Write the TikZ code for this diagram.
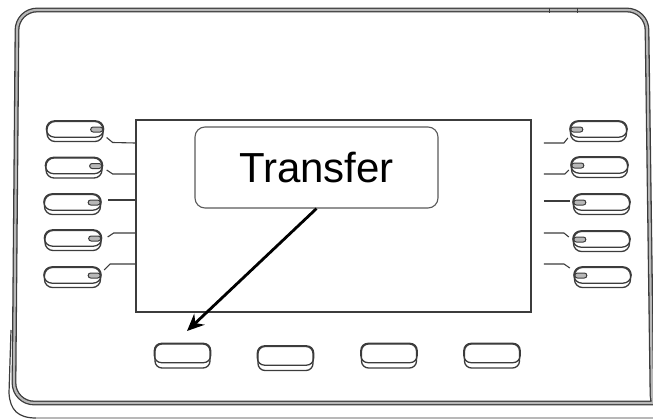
\documentclass[tikz,border=0pt]{standalone}
\usepackage{fontspec}
\setmainfont{Liberation Sans}
\usetikzlibrary{arrows.meta,calc}
\definecolor{keygray}{HTML}{3C3C3C}
\definecolor{dblgray}{HTML}{B8B8B8}
\definecolor{boxline}{HTML}{5A5A5A}
\begin{document}
\begin{tikzpicture}[x=1pt,y=-1pt,
  body/.style={draw=keygray, line width=1.3pt, double=dblgray, double distance=2.2pt},
  keyline/.style={draw=keygray, line width=1.3pt},
  sidekey/.style={keyline, rectangle, rounded corners=8pt, minimum width=56pt, minimum height=20pt, inner sep=0pt},
  softkey/.style={keyline, rectangle, rounded corners=7pt, minimum width=55pt, minimum height=24pt, inner sep=0pt},
  lead/.style={draw=keygray, line width=1.1pt},
  ind/.style={keyline, fill=dblgray, rounded corners=2.5pt, line width=1pt},
  screenbox/.style={draw=keygray, line width=1.8pt, rectangle, minimum width=395pt, minimum height=192pt, inner sep=0pt},
  labelbox/.style={draw=boxline, fill=white, line width=1.1pt, rectangle, rounded corners=10pt, minimum width=243pt, minimum height=81pt, inner sep=0pt},
  labeltext/.style={text=black, font=\fontsize{42}{50}\selectfont, inner sep=0pt},
  pointer/.style={line width=2.8pt, -{Stealth[length=17pt,width=15pt]}}
]
\useasboundingbox (0,0) rectangle (653,420);
% body outline
\draw[body] (37,10) -- (627,10) arc[start angle=90, end angle=0, x radius=20, y radius=-20]
  -- (652,395) -- (653,403) -- (34,403) arc[start angle=270, end angle=180, x radius=20, y radius=-20]
  -- (17,30) arc[start angle=180, end angle=90, x radius=20, y radius=-20] -- cycle;
% base line
\draw[keygray, line width=1.2pt] (11,330) -- (9,393) .. controls (10,410) and (18,418) .. (36,418);
\draw[dblgray, line width=1.2pt] (36,418) -- (653,418);
% ticks on top
\draw[keygray, line width=1pt] (549,8) -- (549,13) (577,8) -- (577,13);
% screen
\node[screenbox] (screen) at (333.5,216) {};
% label
\node[labelbox] (T) at (316.5,167.5) {};
\node[labeltext] (Tt) at (T.center) {Transfer};
\coordinate (tip) at (187,331);
\draw[pointer] (T.south) -- (tip);
% soft keys
\foreach \n/\x/\y in {1/182.5/356, 2/285.5/358.5, 3/389/356, 4/492/356}{
  \node[softkey] (S\n) at (\x,\y) {};
  \draw[keyline, rounded corners=7pt] (S\n.north west) rectangle ($(S\n.south east)+(0,-6)$);
}
% left side keys
\foreach \n/\x/\y in {1/75/131.5, 2/74/168, 3/72.5/204.5, 4/73/240.5, 5/72.5/277.5}{
  \node[sidekey] (L\n) at (\x,\y) {};
  \draw[keyline, rounded corners=8pt] (L\n.north west) rectangle ($(L\n.south east)+(0,-5)$);
  \draw[ind] ($(L\n.east)+(-13,-4.5)$) rectangle ($(L\n.east)+(-1,0.5)$);
}
% left leaders
\draw[lead] ($(L1.east)+(3,6)$) -- ++(6,5) -- (screen.west |- 0,143);
\draw[lead] ($(L2.east)+(4,2)$) -- ++(6,4) -- (screen.west |- 0,174);
\draw[lead] ($(L3.east)+(7,-4.5)$) -- (screen.west |- 0,200);
\draw[lead] ($(L4.east)+(6,-3.5)$) -- ++(6,-4) -- (screen.west |- 0,233);
\draw[lead] ($(L5.east)+(3,-7.5)$) -- ++(6,-6) -- (screen.west |- 0,264);
% right side keys
\foreach \n/\x/\y in {1/598.5/131.5, 2/599.5/167.5, 3/601.5/204.5, 4/601.5/241.5, 5/602.5/277.5}{
  \node[sidekey] (R\n) at (\x,\y) {};
  \draw[keyline, rounded corners=8pt] (R\n.north west) rectangle ($(R\n.south east)+(0,-5)$);
  \draw[ind] ($(R\n.west)+(1,-4.5)$) rectangle ($(R\n.west)+(13,0.5)$);
}
% right leaders
\draw[lead] (screen.east |- 0,143) ++(12,0) -- ++(20,0) -- ($(R1.west)+(-2,6.5)$);
\draw[lead] (screen.east |- 0,174) ++(12,0) -- ++(21,0) -- ($(R2.west)+(-2,2.5)$);
\draw[lead] (screen.east |- 0,201) ++(12,0) -- ($(R3.west)+(-3,-3.5)$);
\draw[lead] (screen.east |- 0,233) ++(12,0) -- ++(20,0) -- ($(R4.west)+(-4,-4.5)$);
\draw[lead] (screen.east |- 0,264) ++(12,0) -- ++(20,0) -- ($(R5.west)+(-4,-9.5)$);
\end{tikzpicture}
\end{document}
